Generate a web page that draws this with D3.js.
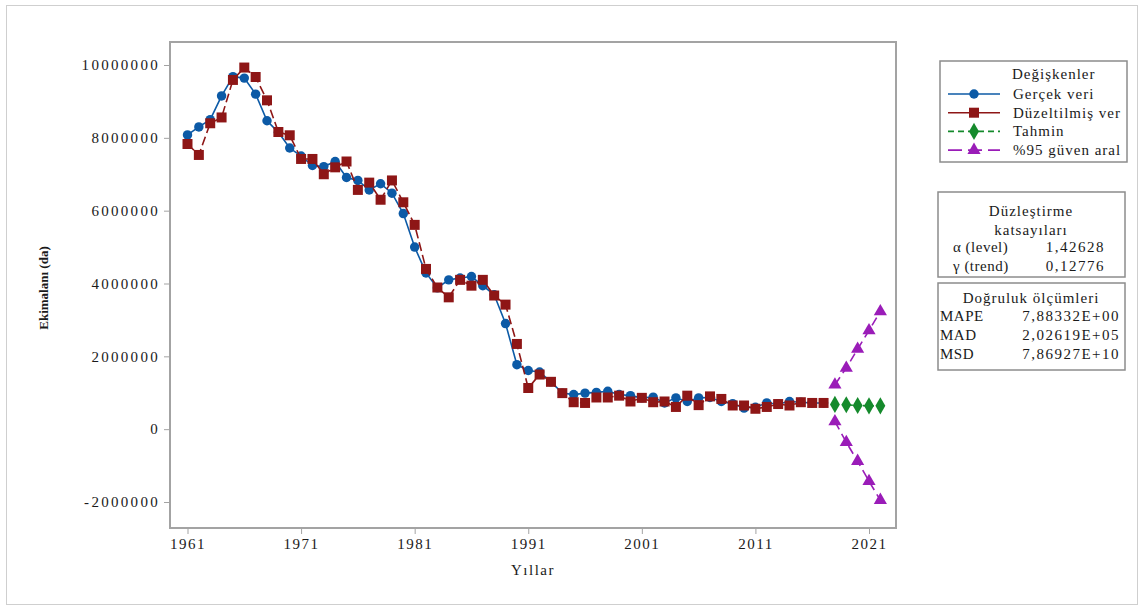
<!DOCTYPE html>
<html>
<head>
<meta charset="utf-8">
<script src="https://cdn.jsdelivr.net/npm/d3@7"></script>
<style>
    body { margin: 0; background: #fff; }
    text { font-family: "Liberation Serif", "Times New Roman", serif; fill: #1a1a1a; }
</style>
</head>
<body>
<script>
// years and series
var years = d3.range(1961, 2018);
var actual = [8080000, 8300000, 8500000, 9150000, 9680000, 9640000, 9200000, 8470000, 8150000, 7720000,
    7500000, 7240000, 7210000, 7350000, 6910000, 6830000, 6570000, 6740000, 6480000, 5920000,
    5000000, 4290000, 3880000, 4100000, 4150000, 4190000, 3940000, 3690000, 2900000, 1770000,
    1610000, 1570000, 1300000, 990000, 950000, 990000, 1010000, 1040000, 950000, 920000,
    860000, 880000, 720000, 860000, 760000, 860000, 870000, 760000, 700000, 580000,
    600000, 720000, 690000, 760000, 740000, 720000, 720000];
var fitted = [7830000, 7530000, 8400000, 8560000, 9590000, 9930000, 9670000, 9030000, 8160000, 8070000,
    7420000, 7420000, 7000000, 7190000, 7350000, 6570000, 6770000, 6300000, 6830000, 6230000,
    5610000, 4400000, 3890000, 3620000, 4100000, 3940000, 4100000, 3670000, 3420000, 2340000,
    1130000, 1500000, 1300000, 990000, 740000, 720000, 870000, 870000, 920000, 760000,
    860000, 740000, 760000, 610000, 920000, 660000, 900000, 830000, 650000, 650000,
    560000, 610000, 690000, 650000, 740000, 720000, 720000];

var forecastYears = [2018, 2019, 2020, 2021, 2022];
var forecast = [680000, 670000, 650000, 640000, 640000];
var upper = [1220000, 1680000, 2200000, 2710000, 3230000];
var lower = [210000, -360000, -880000, -1430000, -1950000];

var xTicks = [1961, 1971, 1981, 1991, 2001, 2011, 2021];
var yTicks = [-2000000, 0, 2000000, 4000000, 6000000, 8000000, 10000000];

var legendNames = ["Gerçek veri", "Düzeltilmiş ver", "Tahmin", "%95 güven aral"];
var smoothRows = [["α (level)", "1,42628"], ["γ (trend)", "0,12776"]];
var accuracyRows = [["MAPE", "7,88332E+00"], ["MAD", "2,02619E+05"], ["MSD", "7,86927E+10"]];

var colors = {blue: "#0c5aa6", red: "#8e1616", green: "#158a2c", purple: "#9a1cb8"};

var width = 1142, height = 606;
var frame = {left: 170, top: 42, right: 896, bottom: 528};

var svg = d3.select("body").append("svg")
    .attr("width", width)
    .attr("height", height);

// outer border
svg.append("rect")
    .attr("x", 6.5).attr("y", 5.5)
    .attr("width", 1131).attr("height", 599)
    .attr("fill", "none")
    .attr("stroke", "#cfcfcf");

var x = d3.scaleLinear().domain([1961, 2021]).range([187.5, 869]);
var y = d3.scaleLinear().domain([-2000000, 10000000]).range([502, 65]);

// plot frame
svg.append("rect")
    .attr("x", frame.left).attr("y", frame.top)
    .attr("width", frame.right - frame.left)
    .attr("height", frame.bottom - frame.top)
    .attr("fill", "none")
    .attr("stroke", "#a3a3a3")
    .attr("stroke-width", 2);

var yAxis = svg.append("g")
    .attr("transform", "translate(" + (frame.left - 1) + ",0)")
    .call(d3.axisLeft(y).tickValues(yTicks).tickSize(5).tickPadding(4)
        .tickFormat(function(d) { return String(d); })); // plain hyphen like the original
yAxis.select(".domain").remove();
yAxis.selectAll("line").attr("stroke", "#a3a3a3");
yAxis.selectAll("text")
    .style("font-size", "15px")
    .style("letter-spacing", "2.3px")
    .style("font-family", "Liberation Serif")
    .attr("fill", "#1a1a1a");

var xAxis = svg.append("g")
    .attr("transform", "translate(0," + (frame.bottom + 1) + ")")
    .call(d3.axisBottom(x).tickValues(xTicks).tickSize(5).tickPadding(4).tickFormat(d3.format("d")));
xAxis.select(".domain").remove();
xAxis.selectAll("line").attr("stroke", "#a3a3a3");
xAxis.selectAll("text")
    .style("font-size", "15px")
    .style("letter-spacing", "1.5px")
    .style("font-family", "Liberation Serif")
    .attr("fill", "#1a1a1a");

svg.append("text")
    .attr("x", 533).attr("y", 575)
    .attr("text-anchor", "middle")
    .style("font-size", "15px")
    .style("letter-spacing", "1.5px")
    .text("Yıllar");

svg.append("text")
    .attr("transform", "translate(48,288) rotate(-90)")
    .attr("text-anchor", "middle")
    .style("font-size", "13px")
    .style("font-weight", "bold")
    .text("Ekimalanı (da)");

// series
function pts(xs, ys) {
    return xs.map(function(d, i) { return {x: d, y: ys[i]}; });
}

var line = d3.line()
    .x(function(d) { return x(d.x); })
    .y(function(d) { return y(d.y); });

var series = [
    {data: pts(years, actual), color: colors.blue, dash: null, legendDash: null, symbol: d3.symbolCircle, size: 70},
    {data: pts(years, fitted), color: colors.red, dash: "9,4", legendDash: null, symbol: d3.symbolSquare, size: 100},
    {data: pts(forecastYears, forecast), color: colors.green, dash: "4,3", legendDash: "6,4", symbol: d3.symbolDiamond, size: 85},
    {data: pts(forecastYears, upper), color: colors.purple, dash: "9,5", legendDash: "14,6", symbol: d3.symbolTriangle, size: 75},
    {data: pts(forecastYears, lower), color: colors.purple, dash: "9,5", legendDash: "14,6", symbol: d3.symbolTriangle, size: 75}
];

var body = svg.append("g").attr("class", "body");

series.forEach(function(s) {
    body.append("path")
        .datum(s.data)
        .attr("fill", "none")
        .attr("stroke", s.color)
        .attr("stroke-width", 1.6)
        .attr("stroke-dasharray", s.dash)
        .attr("d", line);

    body.selectAll(null)
        .data(s.data)
        .enter()
        .append("path")
        .attr("transform", function(d) { return "translate(" + x(d.x) + "," + y(d.y) + ")"; })
        .attr("d", d3.symbol().type(s.symbol).size(s.size))
        .attr("fill", s.color);
});

// legend box
var legend = svg.append("g");
legend.append("rect")
    .attr("x", 940).attr("y", 61)
    .attr("width", 187).attr("height", 101)
    .attr("fill", "#fff")
    .attr("stroke", "#8c8c8c")
    .attr("stroke-width", 1.5);

legend.append("text")
    .attr("x", 1012).attr("y", 79)
    .style("font-size", "15px")
    .style("letter-spacing", "1px")
    .text("Değişkenler");

var legendRows = legend.selectAll("g.row")
    .data(series.slice(0, 4))
    .enter()
    .append("g")
    .attr("class", "row")
    .attr("transform", function(d, i) { return "translate(0," + (94 + i * 18.7) + ")"; });

legendRows.append("line")
    .attr("x1", 948).attr("x2", 1000)
    .attr("y1", 0).attr("y2", 0)
    .attr("stroke", function(d) { return d.color; })
    .attr("stroke-width", 1.6)
    .attr("stroke-dasharray", function(d) { return d.legendDash; });

legendRows.append("path")
    .attr("transform", "translate(974,0)")
    .attr("d", function(d) { return d3.symbol().type(d.symbol).size(d.size)(); })
    .attr("fill", function(d) { return d.color; });

legendRows.append("text")
    .attr("x", 1013).attr("y", 5)
    .style("font-size", "15px")
    .style("letter-spacing", "1px")
    .text(function(d, i) { return legendNames[i]; });

// smoothing constants box
var box2 = svg.append("g");
box2.append("rect")
    .attr("x", 938).attr("y", 192)
    .attr("width", 187).attr("height", 85)
    .attr("fill", "#fff")
    .attr("stroke", "#8c8c8c")
    .attr("stroke-width", 1.5);

box2.append("text")
    .attr("x", 1031).attr("y", 216)
    .attr("text-anchor", "middle")
    .style("font-size", "15px")
    .style("letter-spacing", "1px")
    .text("Düzleştirme");
box2.append("text")
    .attr("x", 1031).attr("y", 235)
    .attr("text-anchor", "middle")
    .style("font-size", "15px")
    .style("letter-spacing", "1px")
    .text("katsayıları");

smoothRows.forEach(function(r, i) {
    box2.append("text")
        .attr("x", 953).attr("y", 252 + i * 19)
        .style("font-size", "15px")
        .style("letter-spacing", "0.5px")
        .text(r[0]);
    box2.append("text")
        .attr("x", 1105).attr("y", 252 + i * 19)
        .attr("text-anchor", "end")
        .style("font-size", "15px")
        .style("letter-spacing", "1.5px")
        .text(r[1]);
});

// accuracy box
var box3 = svg.append("g");
box3.append("rect")
    .attr("x", 938).attr("y", 283)
    .attr("width", 187).attr("height", 87)
    .attr("fill", "#fff")
    .attr("stroke", "#8c8c8c")
    .attr("stroke-width", 1.5);

box3.append("text")
    .attr("x", 1031).attr("y", 303)
    .attr("text-anchor", "middle")
    .style("font-size", "15px")
    .style("letter-spacing", "1px")
    .text("Doğruluk ölçümleri");

accuracyRows.forEach(function(r, i) {
    box3.append("text")
        .attr("x", 940).attr("y", 321 + i * 19)
        .style("font-size", "15px")
        .style("letter-spacing", "0.5px")
        .text(r[0]);
    box3.append("text")
        .attr("x", 1120).attr("y", 321 + i * 19)
        .attr("text-anchor", "end")
        .style("font-size", "15px")
        .style("letter-spacing", "1.5px")
        .text(r[1]);
});
</script>
</body>
</html>
